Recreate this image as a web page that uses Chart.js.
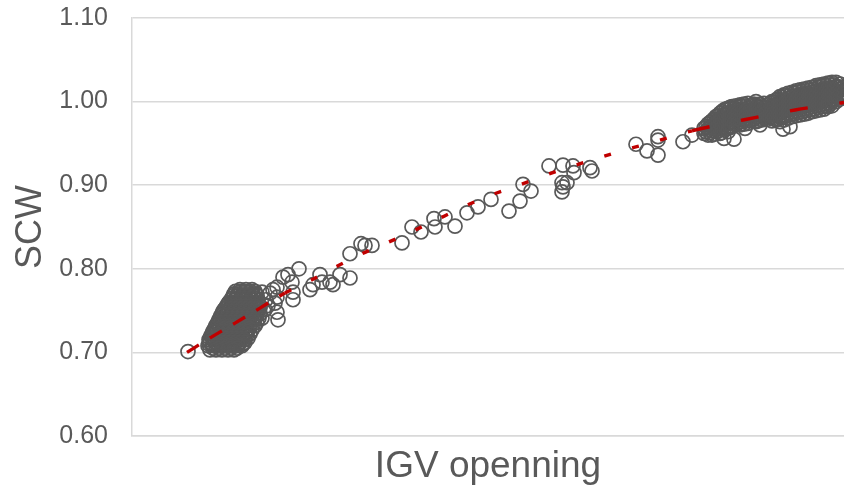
<!DOCTYPE html>
<html>
<head>
<meta charset="utf-8">
<script src="https://cdn.jsdelivr.net/npm/chart.js@4.4.0/dist/chart.umd.min.js"></script>
<style>
  html, body { margin: 0; padding: 0; background: #ffffff; overflow: hidden; }
  #wrap { width: 844px; height: 485px; position: relative; }
</style>
</head>
<body>
<div id="wrap"><canvas id="chart" width="844" height="485"></canvas></div>
<script>
// Axis labels
const xTitle = 'IGV openning';
const yTitle = 'SCW';
const scwTicks = [0.60, 0.70, 0.80, 0.90, 1.00, 1.10];

// Measurements, [IGV opening, SCW] — low-opening cluster
const lowCluster = [
  [10.8,0.775],[11.4,0.775],[12.0,0.775],
  [10.35,0.773],[10.85,0.773],[11.35,0.773],[11.85,0.773],[12.3,0.773],
  [10.2,0.770],[10.6,0.770],[11.1,0.770],[11.6,0.770],[12.1,0.770],[12.4,0.770],
  [10.15,0.768],[10.65,0.768],[11.15,0.768],[11.65,0.768],[12.15,0.768],[12.5,0.768],
  [10.0,0.765],[10.4,0.765],[10.9,0.765],[11.4,0.765],[11.9,0.765],[12.4,0.765],
  [9.9,0.763],[10.35,0.763],[10.85,0.763],[11.35,0.763],[11.85,0.763],[12.35,0.763],
  [9.7,0.760],[10.1,0.760],[10.6,0.760],[11.1,0.760],[11.6,0.760],[12.1,0.760],[12.6,0.760],
  [9.6,0.758],[10.15,0.758],[10.65,0.758],[11.15,0.758],[11.65,0.758],[12.15,0.758],[12.6,0.758],
  [9.5,0.756],[9.9,0.756],[10.4,0.756],[10.9,0.756],[11.4,0.756],[11.9,0.756],[12.4,0.756],[12.8,0.756],
  [9.35,0.753],[9.95,0.753],[10.45,0.753],[10.95,0.753],[11.45,0.753],[11.95,0.753],[12.45,0.753],[12.8,0.753],
  [9.2,0.751],[9.7,0.751],[10.2,0.751],[10.7,0.751],[11.2,0.751],[11.7,0.751],[12.2,0.751],[12.7,0.751],
  [9.1,0.749],[9.55,0.749],[10.05,0.749],[10.55,0.749],[11.05,0.749],[11.55,0.749],[12.05,0.749],[12.55,0.749],
  [9.0,0.746],[9.4,0.746],[9.9,0.746],[10.4,0.746],[10.9,0.746],[11.4,0.746],[11.9,0.746],[12.4,0.746],[12.8,0.746],
  [8.9,0.744],[9.45,0.744],[9.95,0.744],[10.45,0.744],[10.95,0.744],[11.45,0.744],[11.95,0.744],[12.5,0.744],
  [8.8,0.741],[9.2,0.741],[9.7,0.741],[10.2,0.741],[10.7,0.741],[11.2,0.741],[11.7,0.741],[12.2,0.741],[12.7,0.741],
  [8.7,0.739],[9.25,0.739],[9.75,0.739],[10.25,0.739],[10.75,0.739],[11.25,0.739],[11.75,0.739],[12.25,0.739],
  [8.6,0.736],[9.0,0.736],[9.5,0.736],[10.0,0.736],[10.5,0.736],[11.0,0.736],[11.5,0.736],[12.0,0.736],[12.5,0.736],
  [8.5,0.734],[9.05,0.734],[9.55,0.734],[10.05,0.734],[10.55,0.734],[11.05,0.734],[11.55,0.734],[12.15,0.734],
  [8.4,0.732],[8.8,0.732],[9.3,0.732],[9.8,0.732],[10.3,0.732],[10.8,0.732],[11.3,0.732],[11.8,0.732],[12.3,0.732],
  [8.3,0.729],[8.75,0.729],[9.25,0.729],[9.75,0.729],[10.25,0.729],[10.75,0.729],[11.25,0.729],[11.75,0.729],
  [8.2,0.727],[8.5,0.727],[9.0,0.727],[9.5,0.727],[10.0,0.727],[10.5,0.727],[11.0,0.727],[11.5,0.727],[12.0,0.727],
  [8.1,0.725],[8.55,0.725],[9.05,0.725],[9.55,0.725],[10.05,0.725],[10.55,0.725],[11.05,0.725],[11.55,0.725],
  [8.0,0.722],[8.3,0.722],[8.8,0.722],[9.3,0.722],[9.8,0.722],[10.3,0.722],[10.8,0.722],[11.3,0.722],[11.8,0.722],
  [7.9,0.720],[8.45,0.720],[8.95,0.720],[9.45,0.720],[9.95,0.720],[10.45,0.720],[10.95,0.720],[11.45,0.720],
  [7.8,0.717],[8.1,0.717],[8.6,0.717],[9.1,0.717],[9.6,0.717],[10.1,0.717],[10.6,0.717],[11.1,0.717],[11.6,0.717],
  [7.7,0.715],[8.25,0.715],[8.75,0.715],[9.25,0.715],[9.75,0.715],[10.25,0.715],[10.75,0.715],[11.25,0.715],
  [7.8,0.712],[8.3,0.712],[8.8,0.712],[9.3,0.712],[9.8,0.712],[10.3,0.712],[10.8,0.712],[11.3,0.712],
  [7.7,0.710],[8.05,0.710],[8.55,0.710],[9.05,0.710],[9.55,0.710],[10.05,0.710],[10.55,0.710],[11.05,0.710],
  [7.6,0.708],[8.1,0.708],[8.6,0.708],[9.1,0.708],[9.6,0.708],[10.1,0.708],[10.6,0.708],[11.0,0.708],
  [8.1,0.705],[8.7,0.705],[9.3,0.705],[9.9,0.705],[10.5,0.705],
  [7.8,0.703],[8.4,0.703],[9.0,0.703],[9.6,0.703],[10.2,0.703]
];

// Scattered readings on the way up
const lowTail = [
  [5.6,0.701],
  [13.0,0.772],[13.6,0.756],[13.4,0.763],[13.3,0.751],[13.0,0.741],
  [13.8,0.771],[14.1,0.775],[14.5,0.778],[14.5,0.766],[14.3,0.759],[14.5,0.748],[14.6,0.739],
  [15.1,0.790],[15.6,0.793],[16.0,0.784],[16.1,0.772],[16.1,0.763],[16.7,0.800],
  [17.8,0.775],[18.1,0.781],[18.8,0.793],[19.0,0.784],[19.8,0.784],[20.1,0.781],
  [20.8,0.793],[21.8,0.789]
];

const midRange = [
  [21.8,0.818],[22.9,0.830],[23.3,0.828],[24.0,0.828],[27.0,0.831],
  [28.0,0.850],[28.9,0.844],[30.2,0.860],[30.3,0.850],[31.3,0.862],[32.3,0.851],
  [33.5,0.867],[34.6,0.874],[35.9,0.883],[37.7,0.869],[38.8,0.881],[39.1,0.901],[39.9,0.893],
  [41.7,0.923],[43.1,0.924],[44.1,0.923],[44.2,0.915],[45.8,0.921],[46.0,0.917],
  [43.0,0.903],[43.1,0.898],[43.5,0.903],[43.0,0.892],
  [50.4,0.949],[51.5,0.941],[52.6,0.958],[52.6,0.954],[52.6,0.936],[55.1,0.952],[56.0,0.960]
];

// High-opening cluster
const highCluster = [
  [57.2,0.968],[57.2,0.962],
  [57.4,0.970],[57.4,0.964],
  [57.6,0.973],[57.6,0.967],[57.6,0.960],
  [57.8,0.975],[57.8,0.969],[57.8,0.963],
  [58.0,0.977],[58.0,0.971],[58.0,0.965],[58.0,0.960],
  [58.2,0.979],[58.2,0.973],[58.2,0.967],[58.2,0.961],
  [58.4,0.982],[58.4,0.976],[58.4,0.970],[58.4,0.964],
  [58.6,0.983],[58.6,0.977],[58.6,0.971],[58.6,0.965],
  [58.8,0.986],[58.8,0.980],[58.8,0.974],[58.8,0.968],[58.8,0.962],
  [59.0,0.988],[59.0,0.981],[59.0,0.975],[59.0,0.969],[59.0,0.963],
  [59.2,0.990],[59.2,0.984],[59.2,0.978],[59.2,0.972],[59.2,0.966],[59.2,0.956],
  [59.4,0.991],[59.4,0.985],[59.4,0.979],[59.4,0.973],[59.4,0.967],
  [59.6,0.992],[59.6,0.986],[59.6,0.980],[59.6,0.974],[59.6,0.968],[59.6,0.964],
  [59.8,0.993],[59.8,0.987],[59.8,0.981],[59.8,0.975],[59.8,0.969],
  [60.0,0.994],[60.0,0.988],[60.0,0.982],[60.0,0.976],[60.0,0.970],
  [60.2,0.992],[60.2,0.986],[60.2,0.980],[60.2,0.974],[60.2,0.955],
  [60.4,0.995],[60.4,0.990],[60.4,0.984],[60.4,0.978],[60.4,0.972],
  [60.6,0.993],[60.6,0.987],[60.6,0.981],[60.6,0.975],
  [60.8,0.996],[60.8,0.990],[60.8,0.984],[60.8,0.978],[60.8,0.972],
  [61.0,0.994],[61.0,0.988],[61.0,0.982],[61.0,0.976],
  [61.2,0.997],[61.2,0.991],[61.2,0.985],[61.2,0.979],[61.2,0.973],[61.3,0.968],
  [61.4,0.995],[61.4,0.989],[61.4,0.983],[61.4,0.977],
  [61.6,0.998],[61.6,0.992],[61.6,0.986],[61.6,0.980],[61.6,0.974],
  [61.8,0.995],[61.8,0.989],[61.8,0.983],[61.8,0.977],
  [62.0,0.996],[62.0,0.990],[62.0,0.984],[62.0,0.978],
  [62.2,0.997],[62.2,0.991],[62.2,0.985],[62.2,0.979],
  [62.4,1.000],[62.4,0.994],[62.4,0.988],[62.4,0.982],[62.4,0.976],
  [62.6,0.994],[62.6,0.988],[62.6,0.982],[62.6,0.977],
  [62.8,0.997],[62.8,0.991],[62.8,0.985],[62.8,0.979],[62.8,0.972],
  [63.0,0.995],[63.0,0.989],[63.0,0.983],[63.0,0.978],
  [63.2,0.998],[63.2,0.992],[63.2,0.986],[63.2,0.980],
  [63.4,0.993],[63.4,0.987],[63.4,0.981],
  [63.6,0.996],[63.6,0.990],[63.6,0.984],[63.6,0.979],
  [63.8,0.998],[63.8,0.992],[63.8,0.986],[63.8,0.981],
  [64.0,1.000],[64.0,0.994],[64.0,0.988],[64.0,0.982],[64.0,0.977],
  [64.2,0.999],[64.2,0.993],[64.2,0.987],[64.2,0.981],
  [64.4,1.002],[64.4,0.996],[64.4,0.990],[64.4,0.984],[64.4,0.978],
  [64.6,1.003],[64.6,0.997],[64.6,0.991],[64.6,0.985],[64.6,0.979],
  [64.8,1.006],[64.8,1.000],[64.8,0.994],[64.8,0.988],[64.8,0.982],[64.8,0.976],
  [65.0,1.005],[65.0,0.999],[65.0,0.993],[65.0,0.987],[65.0,0.981],
  [65.1,0.967],
  [65.2,1.008],[65.2,1.002],[65.2,0.996],[65.2,0.990],[65.2,0.984],[65.2,0.978],
  [65.4,1.007],[65.4,1.001],[65.4,0.995],[65.4,0.989],[65.4,0.983],
  [65.6,1.010],[65.6,1.004],[65.6,0.998],[65.6,0.992],[65.6,0.986],[65.6,0.980],
  [65.8,1.008],[65.8,1.002],[65.8,0.996],[65.8,0.990],[65.8,0.984],[65.8,0.970],
  [66.0,1.011],[66.0,1.006],[66.0,1.000],[66.0,0.994],[66.0,0.988],[66.0,0.982],
  [66.2,1.010],[66.2,1.004],[66.2,0.998],[66.2,0.992],[66.2,0.986],
  [66.4,1.013],[66.4,1.007],[66.4,1.001],[66.4,0.995],[66.4,0.989],[66.4,0.983],
  [66.6,1.011],[66.6,1.005],[66.6,0.999],[66.6,0.993],[66.6,0.987],
  [66.8,1.014],[66.8,1.008],[66.8,1.002],[66.8,0.996],[66.8,0.990],[66.8,0.984],
  [67.0,1.012],[67.0,1.006],[67.0,1.000],[67.0,0.994],[67.0,0.988],
  [67.2,1.015],[67.2,1.009],[67.2,1.003],[67.2,0.997],[67.2,0.991],[67.2,0.985],
  [67.4,1.013],[67.4,1.007],[67.4,1.001],[67.4,0.995],[67.4,0.989],
  [67.6,1.016],[67.6,1.010],[67.6,1.004],[67.6,0.998],[67.6,0.992],[67.6,0.986],
  [67.8,1.014],[67.8,1.008],[67.8,1.002],[67.8,0.996],[67.8,0.990],
  [68.0,1.017],[68.0,1.011],[68.0,1.006],[68.0,1.000],[68.0,0.994],[68.0,0.988],
  [68.2,1.015],[68.2,1.009],[68.2,1.003],[68.2,0.997],[68.2,0.991],
  [68.4,1.019],[68.4,1.013],[68.4,1.007],[68.4,1.001],[68.4,0.995],[68.4,0.989],
  [68.6,1.017],[68.6,1.011],[68.6,1.005],[68.6,0.999],[68.6,0.993],
  [68.8,1.020],[68.8,1.014],[68.8,1.008],[68.8,1.002],[68.8,0.996],[68.8,0.990],
  [69.0,1.018],[69.0,1.012],[69.0,1.006],[69.0,1.000],[69.0,0.994],
  [69.2,1.021],[69.2,1.015],[69.2,1.009],[69.2,1.003],[69.2,0.997],[69.2,0.991],
  [69.4,1.019],[69.4,1.013],[69.4,1.007],[69.4,1.001],[69.4,0.995],
  [69.6,1.022],[69.6,1.016],[69.6,1.010],[69.6,1.004],[69.6,0.998],[69.6,0.994],
  [69.8,1.020],[69.8,1.014],[69.8,1.008],[69.8,1.002],[69.8,0.997],
  [70.0,1.023],[70.0,1.017],[70.0,1.011],[70.0,1.006],[70.0,1.000],[70.0,0.995],
  [70.2,1.020],[70.2,1.014],[70.2,1.008],[70.2,1.003],
  [70.4,1.023],[70.4,1.017],[70.4,1.011],[70.4,1.006],[70.4,1.000],
  [70.6,1.018],[70.6,1.012],[70.6,1.006],
  [70.8,1.021],[70.8,1.015],[70.8,1.009],[70.8,1.003],
  [71.2,1.017],[71.2,1.011],[71.2,1.005],
  [71.6,1.020],[71.6,1.014],[71.6,1.008]
];

// Fitted trend curve
const trendX = [5.5, 7.9, 10.3, 12.8, 15.3, 18.0, 20.5, 23.0, 26.8, 29.3, 35.2, 38.0, 42.3, 45.7, 49.2, 51.7, 56.0, 61.1, 66.3, 71.2, 71.6];
const trendY = [0.700, 0.718, 0.735, 0.753, 0.771, 0.787, 0.803, 0.818, 0.838, 0.852, 0.885, 0.897, 0.916, 0.929, 0.942, 0.950, 0.965, 0.978, 0.990, 0.999, 1.000];

const FONT = "'Liberation Sans', Arial, sans-serif";
const TEXT = '#595959';
const GRID = '#d9d9d9';

const measurements = [...lowCluster, ...lowTail, ...midRange, ...highCluster]
  .map(([x, y]) => ({ x, y }));
const trend = trendX.map((x, i) => ({ x, y: trendY[i] }));

// Dash rhythm of the trend line differs along its length
function trendDash(ctx) {
  const x = ctx.p0.parsed.x;
  if (x < 15) return [14, 13];
  if (x < 56) return [7, 22];
  return [18, 32];
}

new Chart(document.getElementById('chart'), {
  type: 'scatter',
  data: {
    datasets: [
      {
        label: 'Trend',
        data: trend,
        order: 0,
        showLine: true,
        fill: false,
        pointRadius: 0,
        borderColor: '#C00000',
        borderWidth: 3.4,
        cubicInterpolationMode: 'monotone',
        segment: { borderDash: trendDash }
      },
      {
        label: yTitle,
        data: measurements,
        order: 1,
        clip: false,
        pointRadius: 7,
        pointBorderWidth: 1.7,
        pointBorderColor: '#595959',
        pointBackgroundColor: 'rgba(0,0,0,0)',
        pointHoverRadius: 7
      }
    ]
  },
  options: {
    responsive: false,
    animation: false,
    devicePixelRatio: 1,
    layout: { autoPadding: false, padding: { top: 18, right: 0, bottom: 0, left: 0 } },
    plugins: { legend: { display: false }, tooltip: { enabled: false } },
    scales: {
      x: {
        type: 'linear',
        min: 0,
        max: 71.2,
        grid: { display: false, drawTicks: false },
        border: { display: true, color: GRID, width: 1.5 },
        ticks: { display: false },
        title: {
          display: true, text: xTitle, color: TEXT,
          font: { family: FONT, size: 37, lineHeight: 1.0 },
          padding: { top: 0, bottom: 0 }
        },
        afterFit: s => {
          s.height = 49;
          s.paddingLeft = 0; s.paddingRight = 0;
          s.paddingTop = 0; s.paddingBottom = 0;
        }
      },
      y: {
        type: 'linear',
        min: 0.6,
        max: 1.1,
        afterBuildTicks: s => { s.ticks = scwTicks.map(v => ({ value: v })); },
        ticks: {
          callback: v => Number(v).toFixed(2),
          color: TEXT,
          font: { family: FONT, size: 25 },
          padding: 24
        },
        grid: { color: GRID, lineWidth: 1.5, drawTicks: false },
        border: { display: true, color: GRID, width: 1.5 },
        title: {
          display: true, text: yTitle, color: TEXT,
          font: { family: FONT, size: 36, lineHeight: 1.2 },
          padding: { top: 9, bottom: 0 }
        },
        afterFit: s => {
          s.width = 132;
          s.paddingTop = 0; s.paddingBottom = 0;
          s.paddingLeft = 0; s.paddingRight = 0;
        }
      }
    }
  }
});
</script>
</body>
</html>
